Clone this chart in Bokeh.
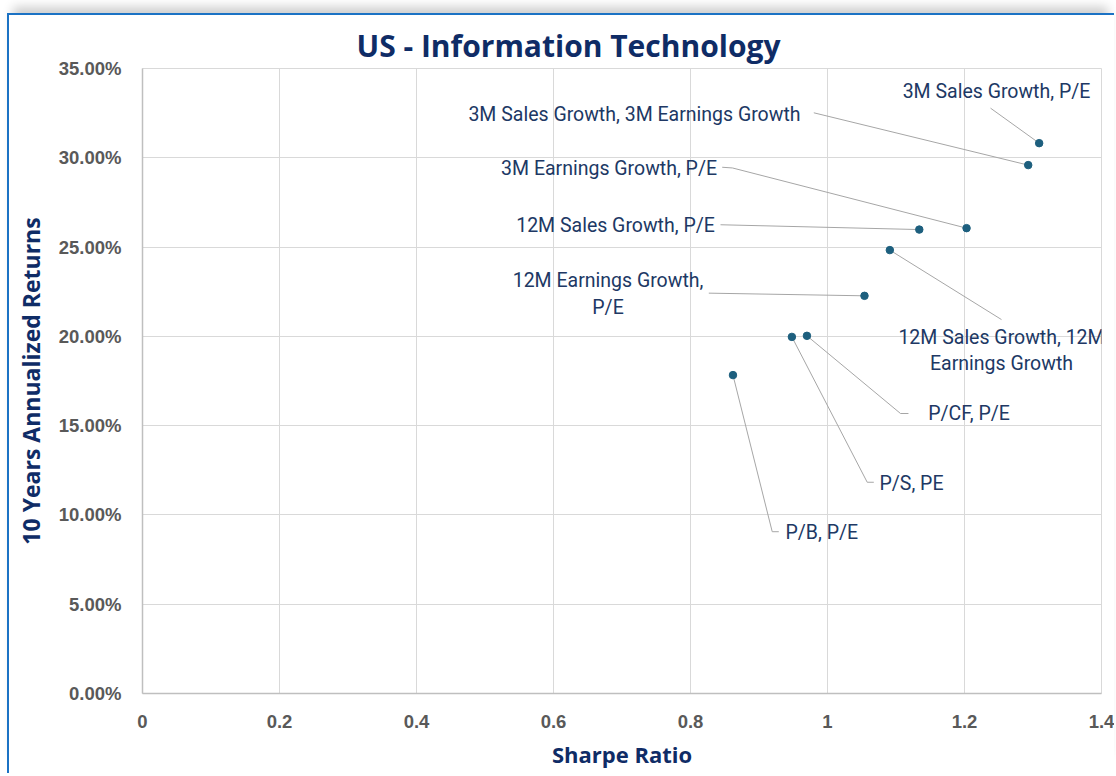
from bokeh.plotting import figure
from bokeh.models import Range1d, FixedTicker, NumeralTickFormatter, ColumnDataSource
from bokeh.core.properties import value
from bokeh.embed import file_html
from bokeh.resources import INLINE

# ---------------- data ----------------
strategies = [
    "3M Sales Growth, P/E",
    "3M Sales Growth, 3M Earnings Growth",
    "3M Earnings Growth, P/E",
    "12M Sales Growth, P/E",
    "12M Sales Growth, 12M Earnings Growth",
    "12M Earnings Growth, P/E",
    "P/CF, P/E",
    "P/S, PE",
    "P/B, P/E",
]
sharpe_ratio = [1.309, 1.293, 1.203, 1.134, 1.091, 1.054, 0.970, 0.948, 0.862]
annual_return = [0.3082, 0.2959, 0.2606, 0.2598, 0.2483, 0.2227, 0.2003, 0.1997, 0.1783]

x_ticks = [0, 0.2, 0.4, 0.6, 0.8, 1, 1.2, 1.4]
y_ticks = [0, 0.05, 0.10, 0.15, 0.20, 0.25, 0.30, 0.35]

# ---------------- label layout (data-space positions of callouts) ----------------
label_text = [
    "3M Sales Growth, P/E",
    "3M Sales Growth, 3M Earnings Growth",
    "3M Earnings Growth, P/E",
    "12M Sales Growth, P/E",
    "12M Sales Growth, 12M\nEarnings Growth",
    "12M Earnings Growth,\nP/E",
    "P/CF, P/E",
    "P/S, PE",
    "P/B, P/E",
]
label_x = [1.2467, 0.9606, 0.8387, 0.8355, 1.254, 0.6796, 1.147, 1.0759, 0.9387]
label_y = [0.3371, 0.3242, 0.2940, 0.2621, 0.1921, 0.2237, 0.1566, 0.1178, 0.0903]
label_align = ["center", "right", "right", "right", "center", "center", "left", "left", "left"]
elbow_x = [1.238, 0.980, 0.8613, 0.8438, 1.254, 0.8267, 1.1066, 1.058, 0.9193]
elbow_y = [0.3278, 0.3252, 0.2943, 0.2625, 0.2094, 0.2242, 0.1568, 0.1183, 0.0906]
stub_x = [1.238, 0.980, 0.8463, 0.8438, 1.254, 0.8267, 1.1182, 1.0676, 0.9289]
stub_y = [0.3278, 0.3252, 0.2947, 0.2625, 0.2094, 0.2242, 0.1568, 0.1183, 0.0906]

NAVY = "#0F2C66"
LABEL_NAVY = "#203864"
GRID = "#D9D9D9"
AXIS = "#BFBFBF"
TICK_GREY = "#595959"
POINT = "#1D5F7E"

p = figure(
    width=1107, height=760,
    x_range=Range1d(0, 1.4), y_range=Range1d(0, 0.35),
    output_backend="svg", toolbar_location=None,
    min_border_left=133, min_border_right=15, min_border_top=53, min_border_bottom=82,
)
p.styles = {
    "margin-top": "13px",
    "margin-left": "7px",
    "border-top": "2px solid #1B72C4",
    "border-left": "2px solid #1B72C4",
    "box-shadow": "0px -12px 10px -6px rgba(0,0,0,0.2)",
}

p.title.text = "US - Information Technology"
p.title.text_font = "Open Sans"
p.title.text_font_style = "bold"
p.title.text_font_size = "30px"
p.title.text_color = NAVY
p.title.align = "left"
p.title.offset = 214
p.title.standoff = 5

p.background_fill_color = "white"
p.border_fill_color = "white"
p.outline_line_color = GRID

# grids
p.xgrid.ticker = FixedTicker(ticks=x_ticks)
p.ygrid.ticker = FixedTicker(ticks=y_ticks)
for g in (p.xgrid, p.ygrid):
    g.grid_line_color = GRID
    g.grid_line_width = 1

# axes
p.xaxis.ticker = FixedTicker(ticks=x_ticks)
p.yaxis.ticker = FixedTicker(ticks=y_ticks)
p.xaxis.formatter = NumeralTickFormatter(format="0.[0]")
p.yaxis.formatter = NumeralTickFormatter(format="0.00%")
for ax in (p.xaxis, p.yaxis):
    ax.axis_line_color = AXIS
    ax.axis_line_width = 1.5
    ax.major_tick_line_color = None
    ax.minor_tick_line_color = None
    ax.major_tick_out = 0
    ax.minor_tick_out = 0
    ax.major_label_text_font = "Liberation Sans"
    ax.major_label_text_font_style = "bold"
    ax.major_label_text_font_size = "18.5px"
    ax.major_label_text_color = TICK_GREY
    ax.axis_label_text_font = "Open Sans"
    ax.axis_label_text_font_style = "bold"
    ax.axis_label_text_color = NAVY
p.xaxis.axis_label_text_font_size = "22px"
p.yaxis.axis_label_text_font_size = "23px"
p.xaxis.axis_label = "Sharpe Ratio"
p.yaxis.axis_label = "10 Years Annualized Returns"
p.xaxis.major_label_standoff = 21
p.yaxis.major_label_standoff = 21
p.xaxis.axis_label_standoff = 8
p.yaxis.axis_label_standoff = 9

# leader lines
leader_xs = [[sx, ex, tx] for sx, ex, tx in zip(sharpe_ratio, elbow_x, stub_x)]
leader_ys = [[sy, ey, ty] for sy, ey, ty in zip(annual_return, elbow_y, stub_y)]
p.multi_line(xs=leader_xs, ys=leader_ys, line_color="#A6A6A6", line_width=1)

# points
p.scatter(x=sharpe_ratio, y=annual_return, size=7.5, fill_color=POINT, line_color=POINT)

# labels, grouped by alignment
for align in ("left", "center", "right"):
    idx = [i for i, a in enumerate(label_align) if a == align]
    src = ColumnDataSource(dict(
        x=[label_x[i] for i in idx],
        y=[label_y[i] for i in idx],
        t=[label_text[i] for i in idx],
    ))
    p.text(x="x", y="y", text="t", source=src, text_align=align, text_baseline="middle",
           text_font=value("Roboto"), text_font_size="19.5px", text_color=LABEL_NAVY,
           text_line_height=1.15)

open("out.html", "w").write(file_html(p, INLINE))
